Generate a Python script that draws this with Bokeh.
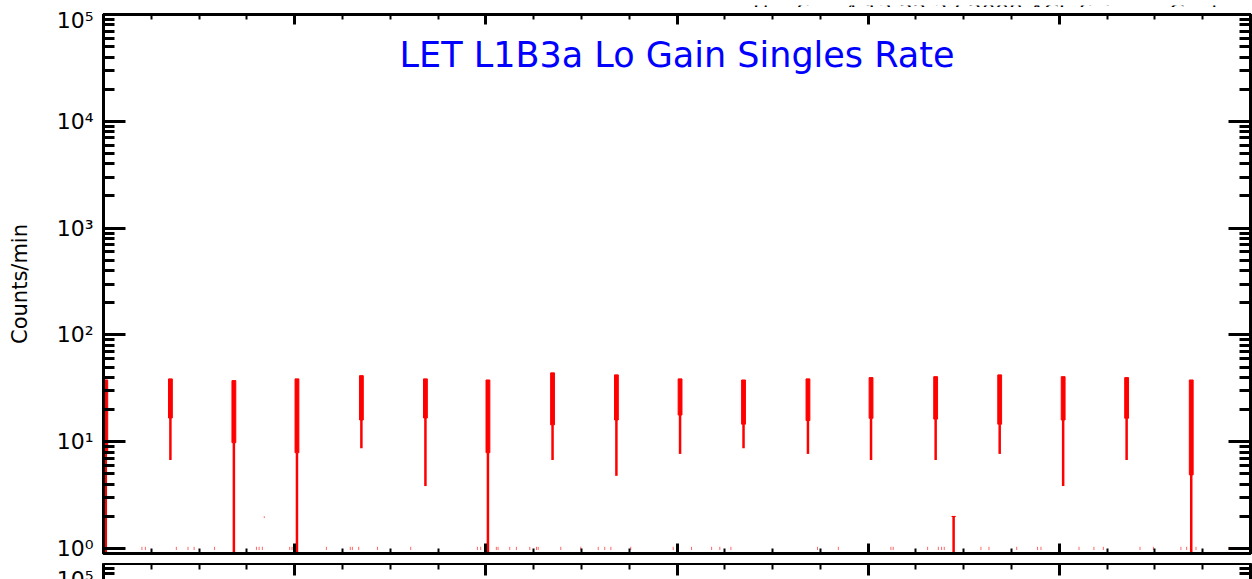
import numpy as np
from bokeh.plotting import figure
from bokeh.layouts import column
from bokeh.models import (Range1d, LogAxis, LinearAxis, Label, FixedTicker,
                          CustomJSTickFormatter, ColumnDataSource)
from bokeh.core.properties import value
from bokeh.embed import file_html
from bokeh.resources import INLINE

# ---------------- data ----------------
title_text = "LET L1B3a Lo Gain Singles Rate"
stamp_text = "Thu Sep  4 13:22:37 2008 ACE Science Center"
y_label = "Counts/min"
y_tick_labels = ["10\u2070", "10\u00b9", "10\u00b2", "10\u00b3", "10\u2074", "10\u2075"]
next_panel_label = "10\u2075"

# time in days from plot start
spike_day = [0.012, 0.350, 0.682, 1.012, 1.349, 1.684, 2.011, 2.349, 2.683, 3.016,
             3.348, 3.685, 4.015, 4.353, 4.447, 4.688, 5.020, 5.352, 5.690]
spike_top = [37.9, 38.8, 37.4, 38.8, 41.6, 38.8, 37.9, 44.2, 42.3, 38.8,
             37.9, 38.8, 39.9, 40.7, 2.0, 42.3, 40.7, 39.9, 37.9]
spike_mid = [7.9, 16.7, 9.8, 7.9, 16.0, 16.7, 7.9, 14.4, 16.0, 17.8,
             14.6, 15.8, 16.6, 16.3, 2.0, 14.6, 16.0, 16.6, 4.9]
spike_low = [0.5, 6.75, 0.5, 0.5, 8.7, 3.85, 0.5, 6.75, 4.8, 7.7,
             8.7, 7.7, 6.75, 6.75, 0.5, 7.7, 3.85, 6.75, 0.5]

# isolated single counts (value 1 per minute)
ones_day = [0.201, 0.219, 0.381, 0.442, 0.474, 0.581, 0.800, 0.814, 0.831, 0.974,
            0.986, 0.997, 1.166, 1.291, 1.302, 1.335, 1.433, 1.607, 1.956, 1.973,
            2.055, 2.064, 2.125, 2.160, 2.230, 2.265, 2.274, 2.392, 2.497, 2.588,
            2.622, 2.654, 2.758, 2.980, 3.076, 3.181, 3.224, 3.282, 3.735, 3.844,
            4.119, 4.131, 4.311, 4.367, 4.384, 4.398, 4.590, 4.632, 4.777, 4.886,
            4.904, 5.103, 5.181, 5.230, 5.422, 5.492, 5.636, 5.666, 5.715, 5.888,
            5.997]
ones_val = [1.0] * len(ones_day)
stray_day = [0.841]
stray_val = [1.97]

x_major = [0, 1, 2, 3, 4, 5, 6]
x_minor = [i * 0.25 for i in range(25)]
y_major = [1, 10, 100, 1000, 10000, 100000]
y_minor = [m * 10 ** k for k in range(0, 5) for m in range(2, 10)]

FONT = "DejaVu Sans"
RED = "#ff0000"
W = 1252
H0 = 7
H1 = 556
H2 = 16

blank = CustomJSTickFormatter(code="return ''")
pow_fmt = CustomJSTickFormatter(args=dict(labels=y_tick_labels),
                                code="return labels[Math.round(Math.log10(tick))]")


def style_y(ax, labels):
    ax.ticker = FixedTicker(ticks=y_major, minor_ticks=y_minor)
    ax.axis_line_width = 3
    ax.major_tick_in = 22
    ax.major_tick_out = 0
    ax.minor_tick_in = 11
    ax.minor_tick_out = 0
    ax.major_tick_line_width = 3
    ax.minor_tick_line_width = 3
    if labels:
        ax.formatter = pow_fmt
        ax.major_label_text_font = FONT
        ax.major_label_text_font_size = "22px"
        ax.major_label_text_color = "black"
        ax.major_label_standoff = 10
    else:
        ax.formatter = blank
        ax.major_label_standoff = 0


def style_x(ax, tick_major, tick_minor):
    ax.ticker = FixedTicker(ticks=x_major, minor_ticks=x_minor)
    ax.formatter = blank
    ax.major_label_standoff = 0
    ax.axis_line_width = 3
    ax.major_tick_in = tick_major
    ax.major_tick_out = 0
    ax.minor_tick_in = tick_minor
    ax.minor_tick_out = 0
    ax.major_tick_line_width = 3
    ax.minor_tick_line_width = 2


# ---------------- strip with the time stamp (cut at the top) ----------------
p0 = figure(width=W, height=H0, x_range=Range1d(0, W), y_range=Range1d(-1, H0 - 1),
            output_backend="svg", toolbar_location=None, x_axis_location=None,
            y_axis_location=None, min_border_left=0, min_border_right=0,
            min_border_top=0, min_border_bottom=0)
p0.grid.visible = False
p0.outline_line_color = None
p0.background_fill_color = "white"
p0.border_fill_color = "white"
p0.text(x=[1250], y=[0], text=[stamp_text], text_align="right",
        text_baseline="alphabetic", text_font=value(FONT), text_font_size="21.5px",
        text_color="black")

# ---------------- main panel ----------------
p = figure(width=W, height=H1, x_range=Range1d(0, 6), y_range=Range1d(0.9, 1e5),
           y_axis_type="log", output_backend="svg", toolbar_location=None,
           min_border_left=103, min_border_right=2, min_border_top=7,
           min_border_bottom=10)
p.grid.visible = False
p.outline_line_color = "black"
p.outline_line_width = 3
p.background_fill_color = "white"
p.border_fill_color = "white"

style_y(p.yaxis[0], True)
p.yaxis[0].axis_label = y_label
p.yaxis[0].axis_label_text_font = FONT
p.yaxis[0].axis_label_text_font_size = "21px"
p.yaxis[0].axis_label_text_font_style = "normal"
p.yaxis[0].axis_label_text_color = "black"
p.yaxis[0].axis_label_standoff = 22

ry = LogAxis()
style_y(ry, False)
p.add_layout(ry, "right")

style_x(p.xaxis[0], 10, 5)
tx = LinearAxis()
style_x(tx, 10, 5)
p.add_layout(tx, "above")

src = ColumnDataSource(dict(x=spike_day, top=spike_top, mid=spike_mid, low=spike_low))
p.segment(x0="x", x1="x", y0="low", y1="mid", source=src, line_color=RED, line_width=2.5)
p.vbar(x="x", width=0.02, bottom="mid", top="top", source=src,
       fill_color=RED, line_color=RED, line_width=1)
p.segment(x0=ones_day, x1=ones_day, y0=[v * 0.97 for v in ones_val],
          y1=[v * 1.04 for v in ones_val], line_color=RED, line_width=1, line_alpha=0.6)
p.segment(x0=stray_day, x1=stray_day, y0=[v * 0.98 for v in stray_val],
          y1=[v * 1.02 for v in stray_val], line_color=RED, line_width=1, line_alpha=0.6)

p.add_layout(Label(x=3.0, y=4.14e4, text=title_text, text_align="center",
                   text_baseline="alphabetic", text_font=FONT, text_font_size="35px",
                   text_color="#0000ff"))

# ---------------- next panel (top edge only) ----------------
p2 = figure(width=W, height=H2, x_range=Range1d(0, 6), y_range=Range1d(7.08e4, 1e5),
            y_axis_type="log", output_backend="svg", toolbar_location=None,
            min_border_left=103, min_border_right=2, min_border_top=0,
            min_border_bottom=0)
p2.grid.visible = False
p2.outline_line_color = None
p2.background_fill_color = "white"
p2.border_fill_color = "white"

ly2 = p2.yaxis[0]
ly2.ticker = FixedTicker(ticks=[8.3e4], minor_ticks=[9e4, 8e4])
ly2.formatter = CustomJSTickFormatter(args=dict(lab=next_panel_label), code="return lab")
ly2.axis_line_width = 3
ly2.major_tick_in = 0
ly2.major_tick_out = 0
ly2.minor_tick_in = 11
ly2.minor_tick_out = 0
ly2.minor_tick_line_width = 3
ly2.major_label_text_font = FONT
ly2.major_label_text_font_size = "22px"
ly2.major_label_text_color = "black"
ly2.major_label_standoff = 10

ry2 = LogAxis()
style_y(ry2, False)
p2.add_layout(ry2, "right")
p2.xaxis.visible = False
tx2 = LinearAxis()
style_x(tx2, 12, 6)
p2.add_layout(tx2, "above")

layout = column(p0, p, p2, spacing=0)
open("out.html", "w").write(file_html(layout, INLINE))
